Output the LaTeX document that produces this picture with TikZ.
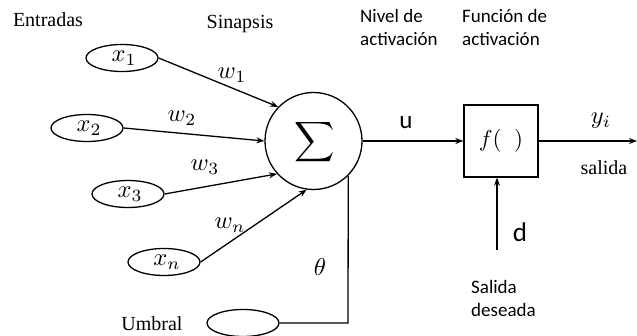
\documentclass[tikz,border=0pt]{standalone}
\usepackage{graphicx}
\usepackage{fontspec}
\setmainfont{Liberation Serif}
\newfontfamily\sansf{Carlito}
\usetikzlibrary{arrows.meta,shapes.geometric}
\newcommand{\mymath}[1]{\scalebox{2.45}{$#1$}}
\begin{document}
\begin{tikzpicture}[x=1pt,y=-1pt,
  conn/.style={line width=1.3pt,-{Stealth[length=8pt,width=6pt]}},
  plain/.style={line width=1.3pt},
  inp/.style={draw,line width=1.3pt,ellipse,minimum width=72pt,minimum height=27pt,inner sep=0pt},
  serif/.style={font=\fontsize{20}{22}\selectfont},
  sanslab/.style={font=\sansf\fontsize{19}{23}\selectfont,align=left},
  mlab/.style={inner sep=1pt}]
\useasboundingbox (0,0) rectangle (637,336);
% labels
\node[serif] (ent) at (48,20) {Entradas};
\node[serif] (sin) at (240,24) {Sinapsis};
\node[sanslab,anchor=north west,inner sep=0pt] (niv) at (360,9) {Nivel de\\activación};
\node[sanslab,anchor=north west,inner sep=0pt] (fun) at (462,9) {Función de\\activación};
% inputs
\node[inp] (x1) at (122,58) {};
\node[inp] (x2) at (87,128) {};
\node[inp] (x3) at (128,194) {};
\node[inp] (xn) at (164,262) {};
\node[inp] (umb) at (243,323) {};
\node[mlab] (x1l) at (124,58) {\mymath{x_1}};
\node[mlab] (x2l) at (89,128) {\mymath{x_2}};
\node[mlab] (x3l) at (130,194) {\mymath{x_3}};
\node[mlab] (xnl) at (167,262) {\mymath{x_n}};
\node[serif] (umbl) at (152,324) {Umbral};
% summation
\node[draw,circle,line width=1.3pt,minimum size=97pt,inner sep=0pt] (sum) at (313.5,141) {};
\node (sig) at (315,142) {\scalebox{2.8}{$\displaystyle\sum$}};
% activation box
\node[draw,line width=1.3pt,minimum width=74pt,minimum height=72pt,inner sep=0pt] (box) at (501,141) {\scalebox{2.3}{$f(\;\;)$}};
% connectors
\draw[conn] (x1.east) -- (sum.136);
\draw[conn] (x2.east) -- (sum.180);
\draw[conn] (x3.east) -- (sum.222);
\draw[conn] (xn.east) -- (sum.262);
\coordinate (thr) at (348,323);
\draw[plain] (umb.east) -- (thr) -- (sum.-45);
\draw[conn] (sum.east) -- (box.west);
\coordinate (outc) at (637,141);
\draw[conn] (box.east) -- (outc);
\coordinate (dst) at (497,250);
\draw[conn] (dst) -- (box.south -| dst);
% weight labels
\node[mlab] (w1) at (232,75) {\mymath{w_1}};
\node[mlab] (w2) at (182,118) {\mymath{w_2}};
\node[mlab] (w3) at (205,167) {\mymath{w_3}};
\node[mlab] (wn) at (230,225) {\mymath{w_n}};
\node[mlab] (th) at (320,267) {\mymath{\theta}};
\node[font=\sansf\fontsize{25}{27}\selectfont] (u) at (406,123) {u};
\node[mlab] (yi) at (601,121) {\mymath{y_i}};
\node[serif] (sal) at (604,168) {salida};
\node[font=\sansf\fontsize{27}{29}\selectfont] (d) at (520,232) {d};
\node[sanslab,anchor=north west,inner sep=0pt] (sd) at (471,280) {Salida\\deseada};
\end{tikzpicture}
\end{document}
